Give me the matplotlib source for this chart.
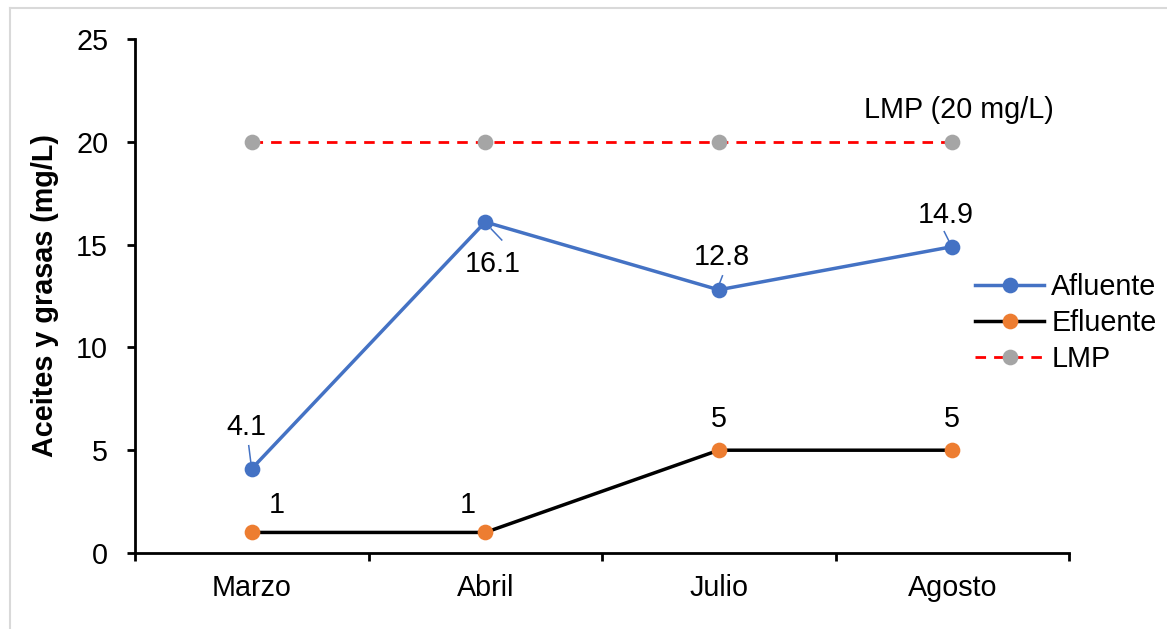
import matplotlib
matplotlib.use("Agg")
import matplotlib.pyplot as plt
import matplotlib.transforms as mtrans
from matplotlib.lines import Line2D

plt.rcParams['font.family'] = ['Liberation Sans', 'DejaVu Sans']

categories = ["Marzo", "Abril", "Julio", "Agosto"]
afluente = [4.1, 16.1, 12.8, 14.9]
efluente = [1, 1, 5, 5]
lmp = [20, 20, 20, 20]
y_ticks = [0, 5, 10, 15, 20, 25]

BLUE = "#4472C4"
ORANGE = "#ED7D31"
GRAY = "#A5A5A5"
RED = "#FF0000"
FS = 20.7

fig = plt.figure(figsize=(11.67, 6.29), dpi=100)
W, H = 1167, 629
ax = fig.add_axes([135 / W, 1 - 553 / H, (1069 - 135) / W, (553 - 39) / H])

x = list(range(len(categories)))
ms = 11.3
ax.plot(x, afluente, color=BLUE, lw=2.5, marker='o', ms=ms, mew=0, label="Afluente", zorder=3)
ax.plot(x, efluente, color="black", lw=2.5, marker='o', ms=ms, mew=0, mfc=ORANGE, label="Efluente", zorder=3)
ax.plot(x, lmp, color=RED, lw=2.0, ls=(0, (3.8, 2.9)), marker='o', ms=ms, mew=0, mfc=GRAY,
        label="LMP", zorder=3)

ax.set_xlim(-0.5, len(categories) - 0.5)
ax.set_ylim(0, 25)
ax.set_yticks(y_ticks)
ax.set_xticks(x)
ax.set_xticklabels(categories)
ax.set_xticks([i - 0.5 for i in range(len(categories) + 1)], minor=True)
ax.tick_params(axis='x', which='major', length=0, pad=15, labelsize=FS)
ax.tick_params(axis='x', which='minor', length=8 * 0.72, width=2.0, direction='out')
ax.tick_params(axis='y', length=8 * 0.72, width=2.0, direction='out', pad=13.5, labelsize=FS)
for s in ['top', 'right']:
    ax.spines[s].set_visible(False)
for s in ['left', 'bottom']:
    ax.spines[s].set_linewidth(2.0)

fig.text(45 / W, 1 - 296 / H, "Aceites y grasas (mg/L)", rotation=90, ha='center', va='center',
         fontsize=FS, fontweight='bold')

# data labels (offsets in pixels from the data point)
afl_offsets = [(-5, 34), (7.5, -50), (3, 25), (-7, 24)]
afl_leaders = [((-1, 7), (-3, 23)), ((6, -7), (16.5, -18)), ((1, 7), (3.7, 14)), ((-3, 5), (-8, 15))]
fig.canvas.draw()
for i, v in enumerate(afluente):
    ax.annotate(f"{v}", xy=(i, v), xytext=afl_offsets[i], textcoords='offset pixels',
                ha='center', va='baseline', fontsize=FS)
    (a, b), (c, d) = afl_leaders[i]
    p = ax.transData.transform((i, v))
    seg = Line2D([p[0] + a, p[0] + c], [p[1] + b, p[1] + d], color=BLUE, lw=1.1, zorder=2)
    seg.set_transform(mtrans.IdentityTransform())
    fig.add_artist(seg)

efl_offsets = [(25, 19.4), (-17.5, 19.4), (0, 23), (0, 23)]
for i, v in enumerate(efluente):
    ax.annotate(f"{v}", xy=(i, v), xytext=efl_offsets[i], textcoords='offset pixels',
                ha='center', va='baseline', fontsize=FS)

ax.annotate(f"LMP ({lmp[-1]} mg/L)", xy=(len(lmp) - 1, lmp[-1]), xytext=(7, 24),
            textcoords='offset pixels', ha='center', va='baseline', fontsize=FS)

leg = ax.legend(loc='center left', bbox_to_anchor=(975 / W, 1 - 323 / H), bbox_transform=fig.transFigure,
                frameon=False, fontsize=FS, handlelength=2.4, handletextpad=0.25, labelspacing=0.27,
                borderpad=0, borderaxespad=0)

# outer light frame
fig.add_artist(Line2D([10 / W, 10 / W], [0, 1 - 8 / H], color="#D9D9D9", lw=1.5, transform=fig.transFigure))
fig.add_artist(Line2D([10 / W, 1], [1 - 8 / H, 1 - 8 / H], color="#D9D9D9", lw=1.5, transform=fig.transFigure))

fig.savefig("out.png", dpi=100)
